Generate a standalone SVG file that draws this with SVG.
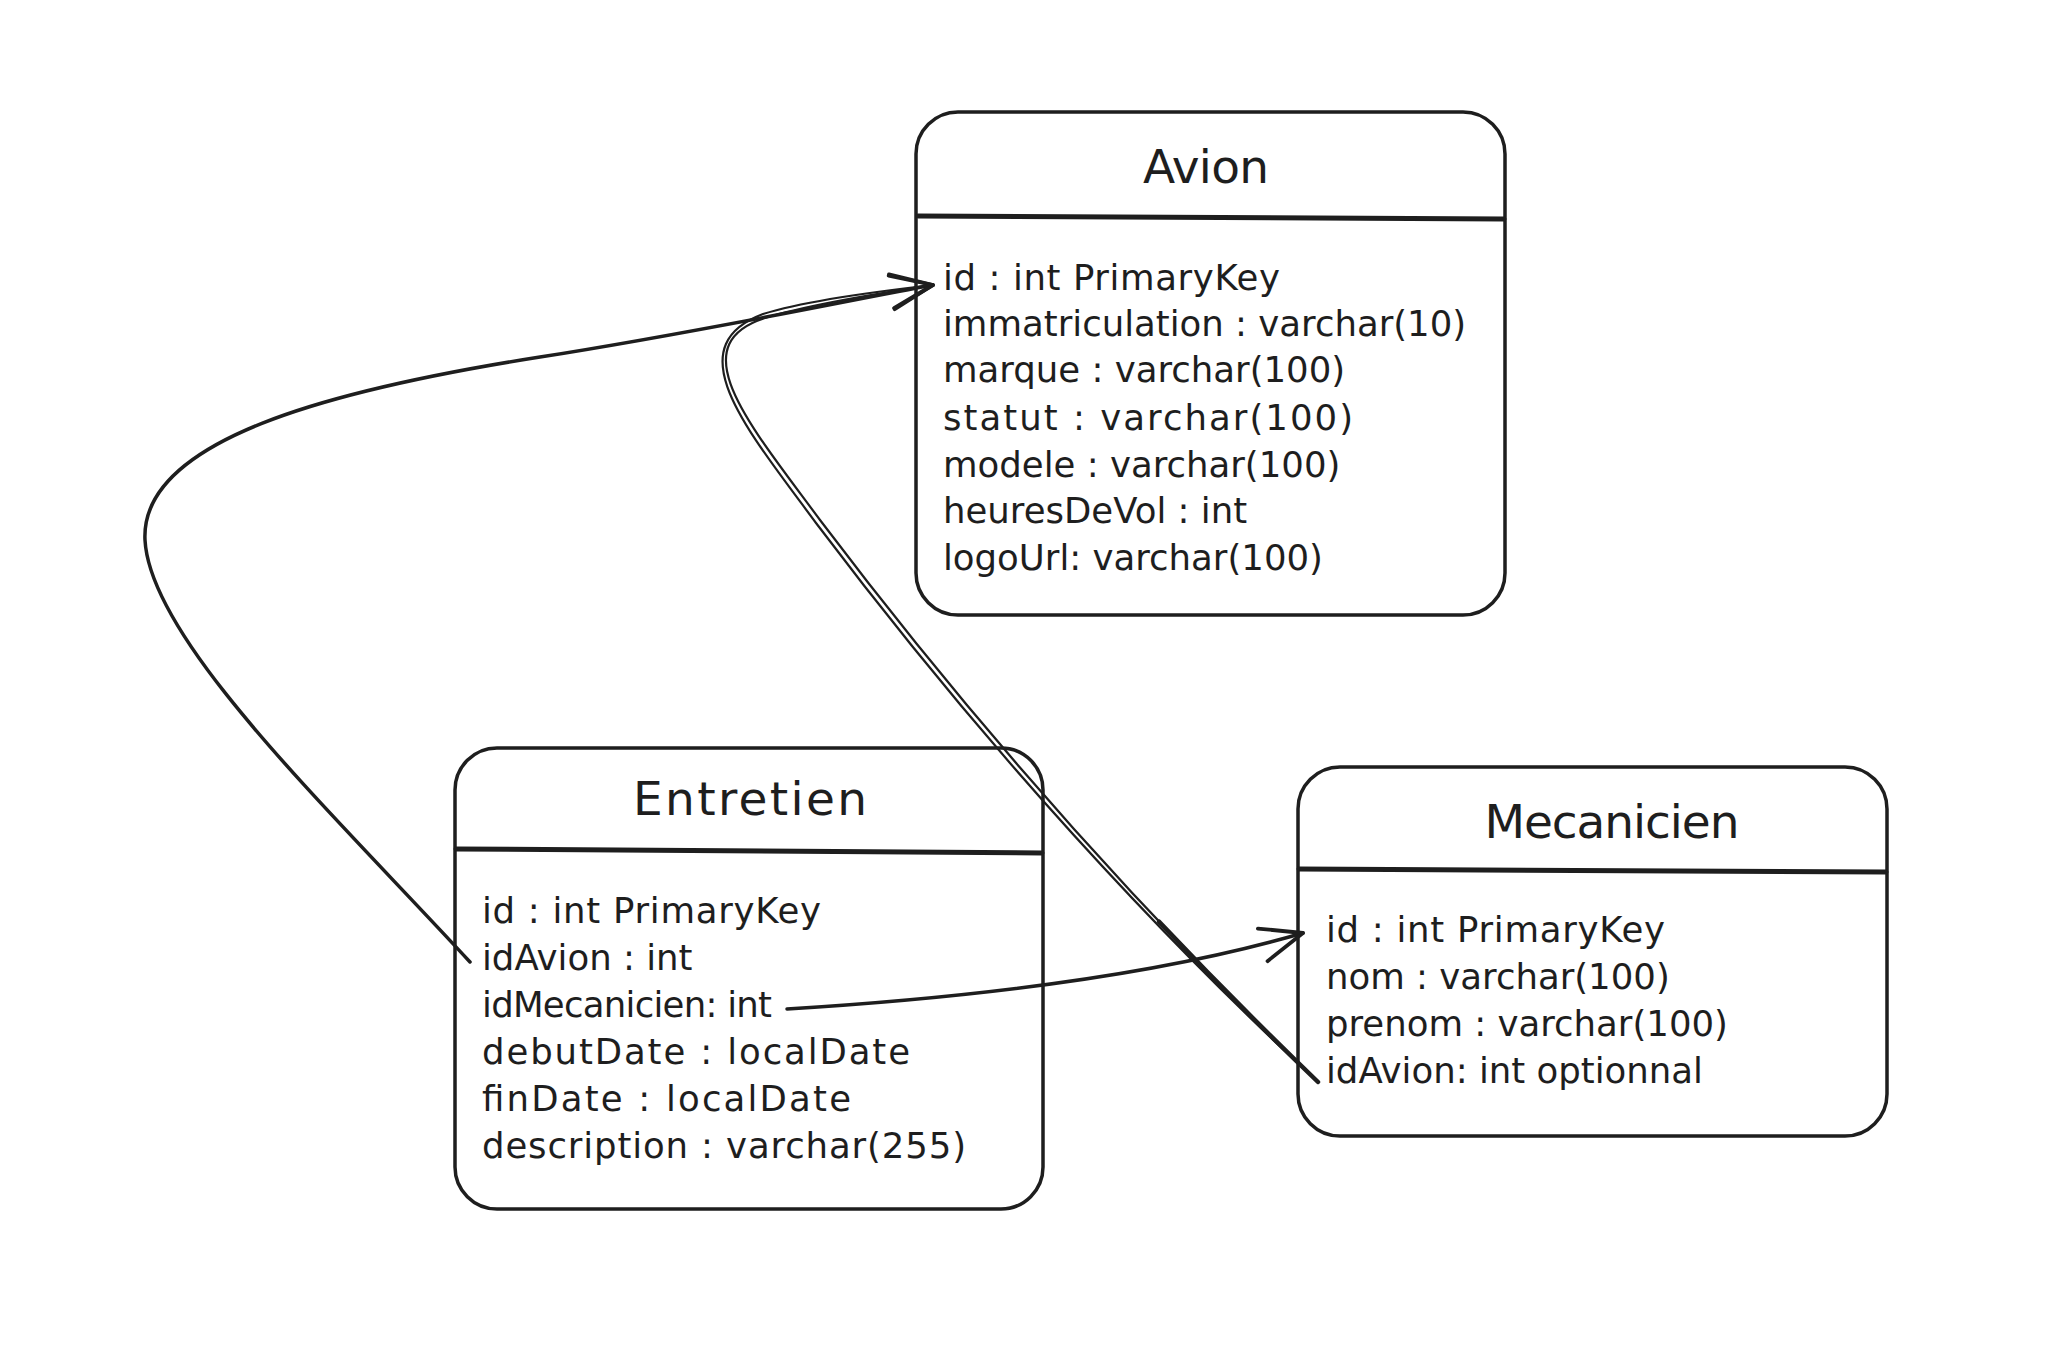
<svg xmlns="http://www.w3.org/2000/svg" width="2066" height="1360" viewBox="0 0 2066 1360">
<defs>
<marker id="arr" markerUnits="userSpaceOnUse" markerWidth="80" markerHeight="80" viewBox="-60 -40 80 80" refX="0" refY="0" orient="auto" overflow="visible">
<path d="M-42,-17 L0,0 L-42,17" fill="none" stroke="#1e1e1e" stroke-width="3.8" stroke-linecap="round" stroke-linejoin="round"/>
</marker>
<style>
.box{fill:none;stroke:#1e1e1e;stroke-width:3.5}
.div{stroke:#1e1e1e;stroke-width:5;stroke-linecap:round}
.title{font-family:"DejaVu Sans",sans-serif;font-size:47px;fill:#1e1e1e;text-anchor:middle}
.row{font-family:"DejaVu Sans",sans-serif;font-size:35.5px;fill:#1e1e1e}
.conn{fill:none;stroke:#1e1e1e;stroke-width:3.5;stroke-linecap:round;stroke-linejoin:round}
.thin{fill:none;stroke:#1e1e1e;stroke-width:2.2;stroke-linecap:round}
.thick{fill:none;stroke:#1e1e1e;stroke-width:4.5;stroke-linecap:round}
</style>
</defs>
<rect width="2066" height="1360" fill="#ffffff"/>

<g id="node-avion">
<rect class="box" x="916" y="112" width="589" height="503" rx="42" ry="42"/>
<line class="div" x1="918" y1="216" x2="1504" y2="219"/>
<text class="title" x="1206" y="183" textLength="126">Avion</text>
<text class="row" x="943" y="290" textLength="337">id : int PrimaryKey</text>
<text class="row" x="943" y="336">immatriculation : varchar(10)</text>
<text class="row" x="943" y="382">marque : varchar(100)</text>
<text class="row" x="943" y="430" textLength="410">statut : varchar(100)</text>
<text class="row" x="943" y="477">modele : varchar(100)</text>
<text class="row" x="943" y="523">heuresDeVol : int</text>
<text class="row" x="943" y="570">logoUrl: varchar(100)</text>
</g>

<g id="node-entretien">
<rect class="box" x="455" y="748" width="588" height="461" rx="42" ry="42"/>
<line class="div" x1="456" y1="849" x2="1042" y2="853"/>
<text class="title" x="750" y="815" textLength="234">Entretien</text>
<text class="row" x="482" y="923" textLength="339">id : int PrimaryKey</text>
<text class="row" x="482" y="970">idAvion : int</text>
<text class="row" x="482" y="1017" textLength="290">idMecanicien: int</text>
<text class="row" x="482" y="1064" textLength="428">debutDate : localDate</text>
<text class="row" x="482" y="1111" textLength="369">finDate : localDate</text>
<text class="row" x="482" y="1158" textLength="484">description : varchar(255)</text>
</g>

<g id="node-mecanicien">
<rect class="box" x="1298" y="767" width="589" height="369" rx="42" ry="42"/>
<line class="div" x1="1299" y1="869" x2="1886" y2="872"/>
<text class="title" x="1612" y="838" textLength="255">Mecanicien</text>
<text class="row" x="1326" y="942" textLength="339">id : int PrimaryKey</text>
<text class="row" x="1326" y="989">nom : varchar(100)</text>
<text class="row" x="1326" y="1036">prenom : varchar(100)</text>
<text class="row" x="1326" y="1083">idAvion: int optionnal</text>
</g>

<g id="connectors">
<path class="conn" d="M470,962 C330,810 150,640 145,540 C140,440 330,390 540,357 C700,332 850,300 933,285" marker-end="url(#arr)"/>
<path class="thin" d="M1318,1082 C1137,908 971,720 820,520 C750,425 680,345 765,318 C810,304 880,293 933,285" marker-end="url(#arr)"/>
<path class="thin" d="M1318,1082 C1134,912 967,723 816,523 C746,428 676,347 763,314 C808,300 880,291 933,285"/>
<path class="thick" d="M1318,1082 C1263.7,1029.8 1210.75,976.3 1159.15,921.7"/>
<path class="conn" d="M787,1009 C950,999 1150,978 1303,933" marker-end="url(#arr)"/>
</g>
</svg>
